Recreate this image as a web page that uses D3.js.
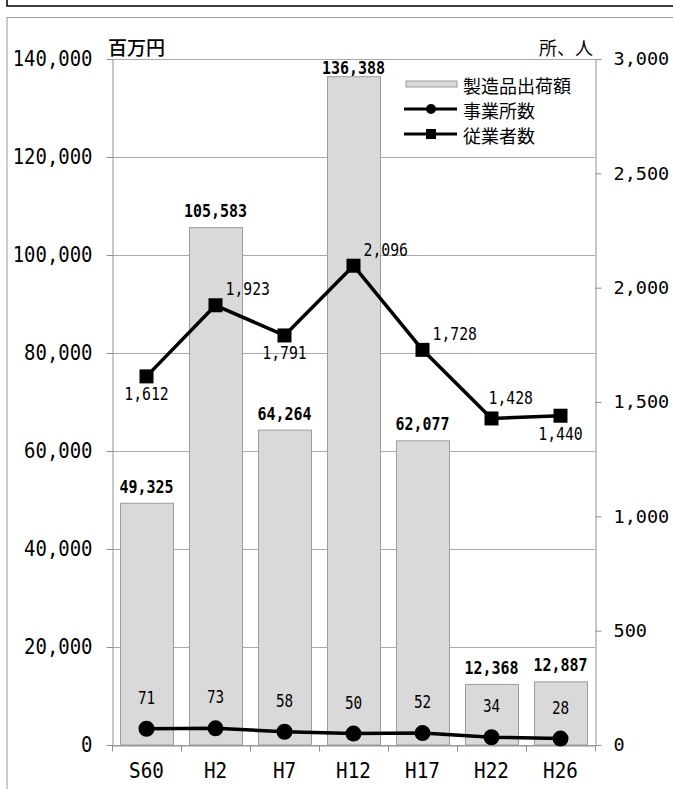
<!DOCTYPE html>
<html lang="ja">
<head>
<meta charset="utf-8">
<script src="https://cdn.jsdelivr.net/npm/d3@7"></script>
<style>
  html, body { margin: 0; padding: 0; background: #fff; }
  svg { display: block; }
</style>
</head>
<body>
<svg id="chart" width="673" height="789"></svg>
<script>
// 年次
const categories = ["S60", "H2", "H7", "H12", "H17", "H22", "H26"];
// 製造品出荷額（百万円）
const shipments = [49325, 105583, 64264, 136388, 62077, 12368, 12887];
// 事業所数（所）
const establishments = [71, 73, 58, 50, 52, 34, 28];
// 従業者数（人）
const employees = [1612, 1923, 1791, 2096, 1728, 1428, 1440];
// 目盛
const leftTicks = [0, 20000, 40000, 60000, 80000, 100000, 120000, 140000];
const rightTicks = [0, 500, 1000, 1500, 2000, 2500, 3000];
const legendLabels = ["製造品出荷額", "事業所数", "従業者数"];
const leftUnit = "百万円";
const rightUnit = "所、人";

const svg = d3.select("#chart");
const W = 673, H = 789;
const plot = { left: 112, right: 595, top: 59, bottom: 745 };

const numFont = "'DejaVu Sans Mono', 'Liberation Mono', monospace";
const jpFont = "'Noto Sans CJK JP', 'Noto Sans', sans-serif";
const fmt = d3.format(",");
const gridColor = "#a9a9a9";
const axisColor = "#8f8f8f";

// narrow, tall digits: squeeze each string to a fixed advance per character
function squeeze(sel, perChar) {
  sel.each(function () {
    const t = d3.select(this);
    const s = t.text();
    t.attr("textLength", s.length * perChar).attr("lengthAdjust", "spacingAndGlyphs");
  });
}

// outer frames (they run on past the right and bottom edges)
svg.append("rect")
  .attr("x", 7).attr("y", -10).attr("width", W + 60).attr("height", 16)
  .attr("fill", "none").attr("stroke", "#000").attr("stroke-width", 1.5);
svg.append("rect")
  .attr("x", 7).attr("y", 17.5).attr("width", W + 60).attr("height", H + 60)
  .attr("fill", "#fff").attr("stroke", "#9a9a9a").attr("stroke-width", 1);

const x = d3.scaleBand()
  .domain(categories)
  .range([plot.left, plot.right])
  .paddingInner(0.232)
  .paddingOuter(0.116);
const yL = d3.scaleLinear().domain([0, 140000]).range([plot.bottom, plot.top]);
const yR = d3.scaleLinear().domain([0, 3000]).range([plot.bottom, plot.top]);
const cx = c => x(c) + x.bandwidth() / 2;

// gridlines
svg.append("g")
  .selectAll("line")
  .data(leftTicks)
  .join("line")
  .attr("x1", plot.left).attr("x2", plot.right)
  .attr("y1", d => Math.round(yL(d)) + 0.5).attr("y2", d => Math.round(yL(d)) + 0.5)
  .attr("stroke", gridColor).attr("stroke-width", 1);

// bars
svg.append("g")
  .selectAll("rect")
  .data(shipments)
  .join("rect")
  .attr("x", (d, i) => Math.round(x(categories[i])) + 0.5)
  .attr("width", Math.round(x.bandwidth()))
  .attr("y", d => yL(d))
  .attr("height", d => plot.bottom - yL(d))
  .attr("fill", "#d9d9d9")
  .attr("stroke", "#9c9c9c")
  .attr("stroke-width", 1);

// left axis
const gL = svg.append("g")
  .attr("transform", `translate(${plot.left + 0.5},0)`)
  .call(d3.axisLeft(yL).tickValues(leftTicks).tickFormat(fmt).tickSize(6).tickSizeOuter(0).tickPadding(14));
gL.select(".domain").attr("stroke", axisColor);
gL.selectAll(".tick line").attr("stroke", axisColor);
gL.selectAll(".tick text")
  .attr("fill", "#000").attr("font-family", numFont).attr("font-size", 20.5)
  .call(squeeze, 11.4);

// right axis (natural width so the labels stay inside the page)
const gR = svg.append("g")
  .attr("transform", `translate(${plot.right + 0.5},0)`)
  .call(d3.axisRight(yR).tickValues(rightTicks).tickFormat(fmt).tickSize(6).tickSizeOuter(0).tickPadding(12));
gR.select(".domain").attr("stroke", axisColor);
gR.selectAll(".tick line").attr("stroke", axisColor);
gR.selectAll(".tick text")
  .attr("fill", "#000").attr("font-family", numFont).attr("font-size", 18.5);

// bottom axis: labels at category centres, tick marks on the category boundaries
const gB = svg.append("g")
  .attr("transform", `translate(0,${plot.bottom + 0.5})`)
  .call(d3.axisBottom(x).tickSize(0).tickPadding(17));
gB.select(".domain").attr("stroke", axisColor);
gB.selectAll(".tick text")
  .attr("fill", "#000").attr("font-family", numFont).attr("font-size", 21.5)
  .call(squeeze, 11.6);
const boundaries = d3.range(categories.length + 1).map(i => plot.left + i * x.step());
gB.append("g")
  .selectAll("line")
  .data(boundaries)
  .join("line")
  .attr("x1", d => Math.round(d) + 0.5).attr("x2", d => Math.round(d) + 0.5)
  .attr("y1", 0).attr("y2", 6)
  .attr("stroke", axisColor);

// unit captions
svg.append("text")
  .attr("x", 108).attr("y", 46)
  .attr("dominant-baseline", "central")
  .attr("font-family", jpFont).attr("font-size", 19).attr("font-weight", 500).attr("fill", "#000")
  .text(leftUnit);
svg.append("text")
  .attr("x", 593).attr("y", 47)
  .attr("text-anchor", "end")
  .attr("dominant-baseline", "central")
  .attr("font-family", jpFont).attr("font-size", 18).attr("fill", "#000")
  .text(rightUnit);

// bar value labels (kept inside the plot top)
svg.append("g")
  .selectAll("text")
  .data(shipments)
  .join("text")
  .attr("x", (d, i) => cx(categories[i]))
  .attr("y", d => Math.max(yL(d) - 17, plot.top + 8))
  .attr("text-anchor", "middle")
  .attr("dominant-baseline", "central")
  .attr("font-family", numFont).attr("font-size", 18.5).attr("font-weight", "bold")
  .attr("fill", "#000")
  .text(d => fmt(d))
  .call(squeeze, 9);

const line = d3.line();
const lineColor = "#000";

// 従業者数
const empPts = employees.map((d, i) => [cx(categories[i]), yR(d)]);
svg.append("path")
  .attr("d", line(empPts))
  .attr("fill", "none").attr("stroke", lineColor).attr("stroke-width", 3.5)
  .attr("stroke-linejoin", "round");
svg.append("g")
  .selectAll("rect")
  .data(empPts)
  .join("rect")
  .attr("x", d => d[0] - 7).attr("y", d => d[1] - 7)
  .attr("width", 14).attr("height", 14)
  .attr("fill", lineColor);

// 事業所数
const estPts = establishments.map((d, i) => [cx(categories[i]), yR(d)]);
svg.append("path")
  .attr("d", line(estPts))
  .attr("fill", "none").attr("stroke", lineColor).attr("stroke-width", 3.5)
  .attr("stroke-linejoin", "round");
svg.append("g")
  .selectAll("circle")
  .data(estPts)
  .join("circle")
  .attr("cx", d => d[0]).attr("cy", d => d[1]).attr("r", 8)
  .attr("fill", lineColor);

// data labels for the lines
svg.append("g")
  .selectAll("text")
  .data(establishments)
  .join("text")
  .attr("x", (d, i) => estPts[i][0])
  .attr("y", (d, i) => estPts[i][1] - 31)
  .attr("text-anchor", "middle")
  .attr("dominant-baseline", "central")
  .attr("font-family", numFont).attr("font-size", 17.5).attr("fill", "#000")
  .text(d => fmt(d))
  .call(squeeze, 8.6);

const placement = {
  below: { dx: 0, dy: 18, anchor: "middle" },
  right: { dx: 10, dy: -16, anchor: "start" },
  above: { dx: -3, dy: -20, anchor: "start" }
};
const empPlacement = ["below", "right", "below", "right", "right", "above", "below"];
svg.append("g")
  .selectAll("text")
  .data(employees)
  .join("text")
  .attr("x", (d, i) => empPts[i][0] + placement[empPlacement[i]].dx)
  .attr("y", (d, i) => empPts[i][1] + placement[empPlacement[i]].dy)
  .attr("text-anchor", (d, i) => placement[empPlacement[i]].anchor)
  .attr("dominant-baseline", "central")
  .attr("font-family", numFont).attr("font-size", 17.5).attr("fill", "#000")
  .text(d => fmt(d))
  .call(squeeze, 8.9);

// legend
const lg = svg.append("g").attr("transform", "translate(404,0)");
const rows = [84, 109, 134];
lg.append("rect")
  .attr("x", 2).attr("y", rows[0] - 3).attr("width", 51).attr("height", 6)
  .attr("fill", "#d9d9d9").attr("stroke", "#9c9c9c");
[1, 2].forEach(k => {
  lg.append("line")
    .attr("x1", 0).attr("x2", 53).attr("y1", rows[k]).attr("y2", rows[k])
    .attr("stroke", lineColor).attr("stroke-width", 3);
});
lg.append("circle").attr("cx", 27).attr("cy", rows[1]).attr("r", 5).attr("fill", lineColor);
lg.append("rect").attr("x", 22).attr("y", rows[2] - 5).attr("width", 10).attr("height", 10).attr("fill", lineColor);
lg.selectAll("text.lg")
  .data(legendLabels)
  .join("text")
  .attr("class", "lg")
  .attr("x", 59)
  .attr("y", (d, i) => rows[i] + 1)
  .attr("dominant-baseline", "central")
  .attr("font-family", jpFont).attr("font-size", 18).attr("fill", "#000")
  .text(d => d);
</script>
</body>
</html>
